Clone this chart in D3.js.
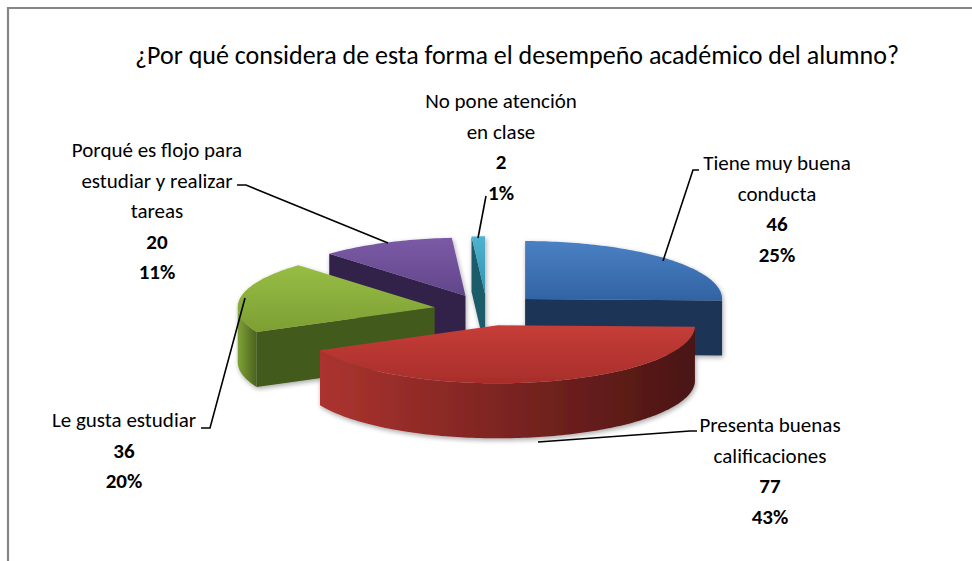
<!DOCTYPE html>
<html>
<head>
<meta charset="utf-8">
<script src="https://d3js.org/d3.v7.min.js"></script>
<style>
body { margin: 0; background: #fff; }
svg text {
  font-family: Carlito, Calibri, "Liberation Sans Narrow", "Liberation Sans", sans-serif;
  fill: #000;
}
.title { font-size: 26px; }
.lbl { font-size: 21px; }
.num { font-size: 21px; font-weight: bold; }
.leader { stroke: #000; stroke-width: 1.6; fill: none; }
</style>
</head>
<body>
<div id="chart"></div>
<script>

// chart data
var title = "¿Por qué considera de esta forma el desempeño académico del alumno?";
var categories = ["Tiene muy buena\nconducta", "Presenta buenas\ncalificaciones", "Le gusta estudiar",
                  "Porqué es flojo para\nestudiar y realizar\ntareas", "No pone atención\nen clase"];
var values = [46, 77, 36, 20, 2];

// colours: top face light/dark, side wall light/dark, cut face
var topCol  = [["#4a80c4", "#3163a3"], ["#c63d38", "#a82e2b"], ["#97bd45", "#7d9f33"], ["#7b5aa6", "#614689"], ["#4fb3cf", "#2e93b0"]];
var wallCol = [["#24446c", "#1a3352"], ["#ac332f", "#4a1513"], ["#80a236", "#4b621f"], ["#3c2b57", "#2c1f40"], ["#2a7d92", "#1a5565"]];
var cutCol  = ["#1c3656", "#5a1a18", "#425a1c", "#33244a", "#1d5b6b"];

var W = 972, H = 561;
var cx = 487, cy = 310, rx = 197, ry = 58, depth = 55, explode = 0.27;

var svg = d3.select("#chart").append("svg")
    .attr("width", W).attr("height", H);

// frame (only the top and left edges show in the picture)
svg.append("path")
    .attr("d", "M8,561 V8 H972")
    .attr("stroke", "#868686").attr("stroke-width", 2.2).attr("fill", "none");

svg.append("text")
    .attr("class", "title")
    .attr("x", 517).attr("y", 64)
    .attr("text-anchor", "middle")
    .text(title);

var defs = svg.append("defs");

var arcs = d3.pie().sort(null).value(function(d) { return d; })(values);

function proj(c, a, r) {
  return [c[0] + rx * r * Math.sin(a), c[1] - ry * r * Math.cos(a)];
}

function arcPts(c, a0, a1, dy) {
  var n = Math.max(2, Math.ceil(Math.abs(a1 - a0) / 0.02));
  return d3.range(n + 1).map(function(i) {
    var p = proj(c, a0 + (a1 - a0) * i / n, 1);
    return [p[0], p[1] + dy];
  });
}

var line = d3.line();

arcs.forEach(function(d, i) {
  d.mid = (d.startAngle + d.endAngle) / 2;
  d.center = proj([cx, cy], d.mid, explode);
  d.i = i;

  var gt = defs.append("linearGradient").attr("id", "top" + i)
      .attr("x1", 0).attr("y1", 0).attr("x2", 0).attr("y2", 1);
  gt.append("stop").attr("offset", "0%").attr("stop-color", topCol[i][0]);
  gt.append("stop").attr("offset", "100%").attr("stop-color", topCol[i][1]);

  var gw = defs.append("linearGradient").attr("id", "wall" + i)
      .attr("x1", 0).attr("y1", 0).attr("x2", 1).attr("y2", 0);
  gw.append("stop").attr("offset", "0%").attr("stop-color", wallCol[i][0]);
  gw.append("stop").attr("offset", "100%").attr("stop-color", wallCol[i][1]);
});

var shadow = defs.append("filter").attr("id", "shadow")
    .attr("x", "-10%").attr("y", "-10%").attr("width", "120%").attr("height", "130%");
shadow.append("feGaussianBlur").attr("in", "SourceAlpha").attr("stdDeviation", 2.5);
shadow.append("feOffset").attr("dx", 1).attr("dy", 2).attr("result", "b");
shadow.append("feComponentTransfer").append("feFuncA").attr("type", "linear").attr("slope", 0.35);
var merge = shadow.append("feMerge");
merge.append("feMergeNode");
merge.append("feMergeNode").attr("in", "SourceGraphic");

// back slices first
var order = arcs.slice().sort(function(a, b) { return (-Math.cos(a.mid)) - (-Math.cos(b.mid)); });

var pie = svg.append("g").attr("filter", "url(#shadow)");

order.forEach(function(d) {
  var g = pie.append("g");
  var c = d.center, a0 = d.startAngle, a1 = d.endAngle;
  var below = [c[0], c[1] + depth];

  // cut faces that turn toward the viewer
  if (Math.sin(a0) < -1e-6) {
    var p = proj(c, a0, 1);
    g.append("path")
      .attr("d", line([c, p, [p[0], p[1] + depth], below]) + "Z")
      .attr("fill", cutCol[d.i]);
  }
  if (Math.sin(a1) > 1e-6) {
    var q = proj(c, a1, 1);
    g.append("path")
      .attr("d", line([c, q, [q[0], q[1] + depth], below]) + "Z")
      .attr("fill", cutCol[d.i]);
  }

  // outer wall, front half only
  var w0 = Math.max(a0, Math.PI / 2), w1 = Math.min(a1, 3 * Math.PI / 2);
  if (w1 > w0) {
    var pts = arcPts(c, w0, w1, 0).concat(arcPts(c, w1, w0, depth));
    g.append("path")
      .attr("d", line(pts) + "Z")
      .attr("fill", "url(#wall" + d.i + ")");
  }

  // top face
  g.append("path")
    .attr("d", line([c].concat(arcPts(c, a0, a1, 0))) + "Z")
    .attr("fill", "url(#top" + d.i + ")");
});

// data labels
var pct = d3.format(".0%");
var total = d3.sum(values);
var labelPos = [
  { x: 777, y: 163, lead: [[699, 170], [693, 170], [663, 261]] },
  { x: 770, y: 425, lead: [[697, 431], [690, 431], [538, 442]] },
  { x: 124, y: 420, lead: [[201, 428], [210, 428], [245, 298]] },
  { x: 157, y: 150, lead: [[237, 185], [246, 185], [388, 243]] },
  { x: 501, y: 101, lead: [[486, 196], [478, 238]] }
];
var lineH = 30.5;

labelPos.forEach(function(lp, i) {
  svg.append("path").attr("class", "leader").attr("d", line(lp.lead));

  var lines = categories[i].split("\n");
  var t = svg.append("text").attr("text-anchor", "middle");
  lines.forEach(function(s, k) {
    t.append("tspan").attr("class", "lbl")
      .attr("x", lp.x).attr("y", lp.y + k * lineH + 7).text(s);
  });
  t.append("tspan").attr("class", "num")
    .attr("x", lp.x).attr("y", lp.y + lines.length * lineH + 7).text(values[i]);
  t.append("tspan").attr("class", "num")
    .attr("x", lp.x).attr("y", lp.y + (lines.length + 1) * lineH + 7).text(pct(values[i] / total));
});

</script>
</body>
</html>
